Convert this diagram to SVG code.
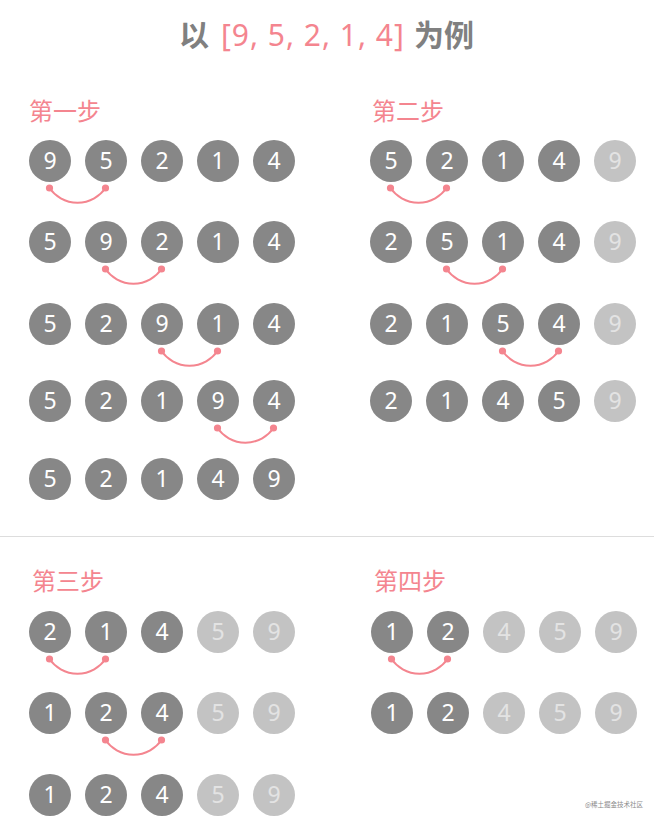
<svg xmlns="http://www.w3.org/2000/svg" width="654" height="825" viewBox="0 0 654 825">
<style>
.d{fill:#878787}
.l{fill:#c3c3c3}
.t{font-family:"Noto Sans","Open Sans","Liberation Sans",sans-serif;font-size:23px;text-anchor:middle}
.tw{fill:#ffffff}
.tl{fill:#e3e3e3}
.h{font-family:"Noto Sans CJK SC","Noto Sans",sans-serif;font-size:24px;fill:#f4858f}
.arc{fill:none;stroke:#f4858f;stroke-width:2}
.dot{fill:#f4858f}
</style>
<defs>
<g id="lnk"><path class="arc" d="M0,0 A34,34 0 0 0 56,0"/><circle class="dot" cx="0" cy="0" r="3.6"/><circle class="dot" cx="56" cy="0" r="3.6"/></g>
</defs>
<rect width="654" height="825" fill="#ffffff"/>
<g id="title">
<text y="46" font-family="Noto Sans CJK SC, Noto Sans, sans-serif" font-size="30" font-weight="bold"><tspan x="179" fill="#808080">以</tspan><tspan x="221" fill="#f4858f" font-weight="normal" font-family="Noto Sans, sans-serif" letter-spacing="1">[9, 5, 2, 1, 4]</tspan><tspan x="414" fill="#808080">为例</tspan></text>
</g>
<line x1="0" y1="536.5" x2="654" y2="536.5" stroke="#dddddd" stroke-width="1"/>
<g id="step1-label"><text class="h" x="29" y="120">第一步</text></g>
<g id="step2-label"><text class="h" x="372" y="120">第二步</text></g>
<g id="step3-label"><text class="h" x="32" y="590">第三步</text></g>
<g id="step4-label"><text class="h" x="374" y="590">第四步</text></g>

<!-- Step 1 -->
<g id="s1r1">
<circle class="d" cx="50" cy="161" r="21"/><text class="t tw" x="50" y="169">9</text>
<circle class="d" cx="106" cy="161" r="21"/><text class="t tw" x="106" y="169">5</text>
<circle class="d" cx="162" cy="161" r="21"/><text class="t tw" x="162" y="169">2</text>
<circle class="d" cx="218" cy="161" r="21"/><text class="t tw" x="218" y="169">1</text>
<circle class="d" cx="274" cy="161" r="21"/><text class="t tw" x="274" y="169">4</text>
</g>
<g id="s1r2">
<circle class="d" cx="50" cy="242" r="21"/><text class="t tw" x="50" y="250">5</text>
<circle class="d" cx="106" cy="242" r="21"/><text class="t tw" x="106" y="250">9</text>
<circle class="d" cx="162" cy="242" r="21"/><text class="t tw" x="162" y="250">2</text>
<circle class="d" cx="218" cy="242" r="21"/><text class="t tw" x="218" y="250">1</text>
<circle class="d" cx="274" cy="242" r="21"/><text class="t tw" x="274" y="250">4</text>
</g>
<g id="s1r3">
<circle class="d" cx="50" cy="324" r="21"/><text class="t tw" x="50" y="332">5</text>
<circle class="d" cx="106" cy="324" r="21"/><text class="t tw" x="106" y="332">2</text>
<circle class="d" cx="162" cy="324" r="21"/><text class="t tw" x="162" y="332">9</text>
<circle class="d" cx="218" cy="324" r="21"/><text class="t tw" x="218" y="332">1</text>
<circle class="d" cx="274" cy="324" r="21"/><text class="t tw" x="274" y="332">4</text>
</g>
<g id="s1r4">
<circle class="d" cx="50" cy="401" r="21"/><text class="t tw" x="50" y="409">5</text>
<circle class="d" cx="106" cy="401" r="21"/><text class="t tw" x="106" y="409">2</text>
<circle class="d" cx="162" cy="401" r="21"/><text class="t tw" x="162" y="409">1</text>
<circle class="d" cx="218" cy="401" r="21"/><text class="t tw" x="218" y="409">9</text>
<circle class="d" cx="274" cy="401" r="21"/><text class="t tw" x="274" y="409">4</text>
</g>
<g id="s1r5">
<circle class="d" cx="50" cy="479" r="21"/><text class="t tw" x="50" y="487">5</text>
<circle class="d" cx="106" cy="479" r="21"/><text class="t tw" x="106" y="487">2</text>
<circle class="d" cx="162" cy="479" r="21"/><text class="t tw" x="162" y="487">1</text>
<circle class="d" cx="218" cy="479" r="21"/><text class="t tw" x="218" y="487">4</text>
<circle class="d" cx="274" cy="479" r="21"/><text class="t tw" x="274" y="487">9</text>
</g>

<!-- Step 2 -->
<g id="s2r1">
<circle class="d" cx="391" cy="161" r="21"/><text class="t tw" x="391" y="169">5</text>
<circle class="d" cx="447" cy="161" r="21"/><text class="t tw" x="447" y="169">2</text>
<circle class="d" cx="503" cy="161" r="21"/><text class="t tw" x="503" y="169">1</text>
<circle class="d" cx="559" cy="161" r="21"/><text class="t tw" x="559" y="169">4</text>
<circle class="l" cx="615" cy="161" r="21"/><text class="t tl" x="615" y="169">9</text>
</g>
<g id="s2r2">
<circle class="d" cx="391" cy="242" r="21"/><text class="t tw" x="391" y="250">2</text>
<circle class="d" cx="447" cy="242" r="21"/><text class="t tw" x="447" y="250">5</text>
<circle class="d" cx="503" cy="242" r="21"/><text class="t tw" x="503" y="250">1</text>
<circle class="d" cx="559" cy="242" r="21"/><text class="t tw" x="559" y="250">4</text>
<circle class="l" cx="615" cy="242" r="21"/><text class="t tl" x="615" y="250">9</text>
</g>
<g id="s2r3">
<circle class="d" cx="391" cy="324" r="21"/><text class="t tw" x="391" y="332">2</text>
<circle class="d" cx="447" cy="324" r="21"/><text class="t tw" x="447" y="332">1</text>
<circle class="d" cx="503" cy="324" r="21"/><text class="t tw" x="503" y="332">5</text>
<circle class="d" cx="559" cy="324" r="21"/><text class="t tw" x="559" y="332">4</text>
<circle class="l" cx="615" cy="324" r="21"/><text class="t tl" x="615" y="332">9</text>
</g>
<g id="s2r4">
<circle class="d" cx="391" cy="401" r="21"/><text class="t tw" x="391" y="409">2</text>
<circle class="d" cx="447" cy="401" r="21"/><text class="t tw" x="447" y="409">1</text>
<circle class="d" cx="503" cy="401" r="21"/><text class="t tw" x="503" y="409">4</text>
<circle class="d" cx="559" cy="401" r="21"/><text class="t tw" x="559" y="409">5</text>
<circle class="l" cx="615" cy="401" r="21"/><text class="t tl" x="615" y="409">9</text>
</g>

<!-- Step 3 -->
<g id="s3r1">
<circle class="d" cx="50" cy="632" r="21"/><text class="t tw" x="50" y="640">2</text>
<circle class="d" cx="106" cy="632" r="21"/><text class="t tw" x="106" y="640">1</text>
<circle class="d" cx="162" cy="632" r="21"/><text class="t tw" x="162" y="640">4</text>
<circle class="l" cx="218" cy="632" r="21"/><text class="t tl" x="218" y="640">5</text>
<circle class="l" cx="274" cy="632" r="21"/><text class="t tl" x="274" y="640">9</text>
</g>
<g id="s3r2">
<circle class="d" cx="50" cy="713" r="21"/><text class="t tw" x="50" y="721">1</text>
<circle class="d" cx="106" cy="713" r="21"/><text class="t tw" x="106" y="721">2</text>
<circle class="d" cx="162" cy="713" r="21"/><text class="t tw" x="162" y="721">4</text>
<circle class="l" cx="218" cy="713" r="21"/><text class="t tl" x="218" y="721">5</text>
<circle class="l" cx="274" cy="713" r="21"/><text class="t tl" x="274" y="721">9</text>
</g>
<g id="s3r3">
<circle class="d" cx="50" cy="795" r="21"/><text class="t tw" x="50" y="803">1</text>
<circle class="d" cx="106" cy="795" r="21"/><text class="t tw" x="106" y="803">2</text>
<circle class="d" cx="162" cy="795" r="21"/><text class="t tw" x="162" y="803">4</text>
<circle class="l" cx="218" cy="795" r="21"/><text class="t tl" x="218" y="803">5</text>
<circle class="l" cx="274" cy="795" r="21"/><text class="t tl" x="274" y="803">9</text>
</g>

<!-- Step 4 -->
<g id="s4r1">
<circle class="d" cx="392" cy="632" r="21"/><text class="t tw" x="392" y="640">1</text>
<circle class="d" cx="448" cy="632" r="21"/><text class="t tw" x="448" y="640">2</text>
<circle class="l" cx="504" cy="632" r="21"/><text class="t tl" x="504" y="640">4</text>
<circle class="l" cx="560" cy="632" r="21"/><text class="t tl" x="560" y="640">5</text>
<circle class="l" cx="616" cy="632" r="21"/><text class="t tl" x="616" y="640">9</text>
</g>
<g id="s4r2">
<circle class="d" cx="392" cy="713" r="21"/><text class="t tw" x="392" y="721">1</text>
<circle class="d" cx="448" cy="713" r="21"/><text class="t tw" x="448" y="721">2</text>
<circle class="l" cx="504" cy="713" r="21"/><text class="t tl" x="504" y="721">4</text>
<circle class="l" cx="560" cy="713" r="21"/><text class="t tl" x="560" y="721">5</text>
<circle class="l" cx="616" cy="713" r="21"/><text class="t tl" x="616" y="721">9</text>
</g>

<g id="connectors">
<use href="#lnk" x="49.5" y="188"/>
<use href="#lnk" x="105.5" y="269"/>
<use href="#lnk" x="161.5" y="351"/>
<use href="#lnk" x="217.5" y="428"/>
<use href="#lnk" x="390.5" y="188"/>
<use href="#lnk" x="446.5" y="269"/>
<use href="#lnk" x="502.5" y="351"/>
<use href="#lnk" x="49.5" y="659"/>
<use href="#lnk" x="105.5" y="740"/>
<use href="#lnk" x="391.5" y="659"/>
</g>
<text x="614" y="807" font-family="Noto Sans CJK SC, sans-serif" font-size="6.5" fill="#8a8a8a" text-anchor="middle">@稀土掘金技术社区</text>
</svg>
